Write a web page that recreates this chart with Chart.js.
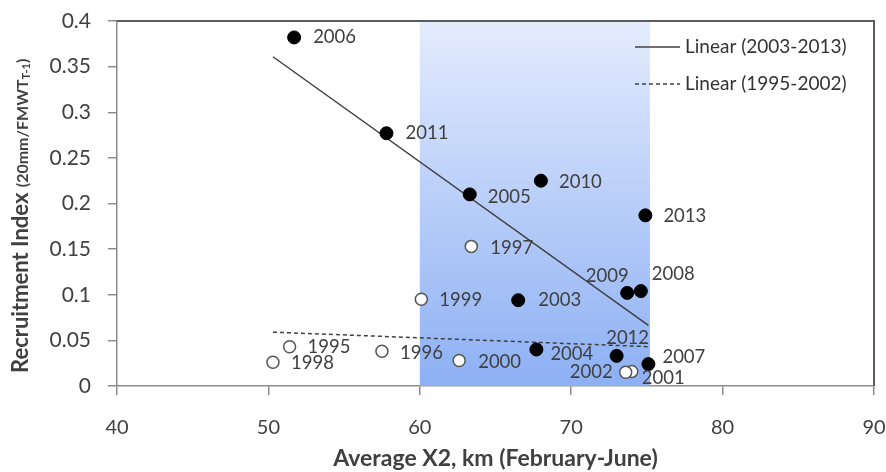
<!DOCTYPE html>
<html>
<head>
<meta charset="utf-8">
<script src="https://cdn.jsdelivr.net/npm/chart.js@4.4.1/dist/chart.umd.min.js"></script>
<style>
    html, body { margin: 0; padding: 0; background: #fff; }
    #wrap { width: 886px; height: 472px; }
</style>
</head>
<body>
<div id="wrap"><canvas id="x2_chart" width="886" height="472"></canvas></div>
<script>
/* =========================
   Data
========================= */
// 2003-2013 (filled markers)
const yearsRecent = [2003, 2004, 2005, 2006, 2007, 2008, 2009, 2010, 2011, 2012, 2013];
const x2Recent    = [66.5, 67.7, 63.3, 51.7, 75.1, 74.6, 73.7, 68.0, 57.8, 73.0, 74.9];
const indexRecent = [0.094, 0.040, 0.210, 0.382, 0.024, 0.104, 0.102, 0.225, 0.277, 0.033, 0.187];

// 1995-2002 (open markers)
const yearsEarly = [1995, 1996, 1997, 1998, 1999, 2000, 2001, 2002];
const x2Early    = [51.4, 57.5, 63.4, 50.3, 60.1, 62.6, 74.0, 73.6];
const indexEarly = [0.043, 0.038, 0.153, 0.026, 0.095, 0.028, 0.016, 0.015];

// shaded X2 band
const shadeBand = [60, 75.2];

const xTickLabels = ['40', '50', '60', '70', '80', '90'];
const yTickLabels = ['0', '0.05', '0.1', '0.15', '0.2', '0.25', '0.3', '0.35', '0.4'];

const legendLabels = ['Linear (2003-2013)', 'Linear (1995-2002)'];


/* =========================
   Label placement per year: [dx, dy, align]
========================= */
const labelPlacement = {
    2006: [19, 0, 'left'],   2011: [19, 0, 'left'],   2005: [18, 3, 'left'],
    2010: [18, 1, 'left'],   2013: [18, 1, 'left'],   2009: [-20, -17, 'center'],
    2008: [11, -17, 'left'], 2003: [20, 0, 'left'],   2004: [14, 5, 'left'],
    2012: [11, -18, 'center'], 2007: [14, -7, 'left'], 2002: [-13, 0, 'right'],
    2001: [10, 7, 'left'],   1997: [19, 2, 'left'],   1999: [18, 1, 'left'],
    1995: [18, 0, 'left'],   1998: [18, 1, 'left'],   1996: [18, 2, 'left'],
    2000: [19, 2, 'left']
};

const textColor = '#404040';


/* =========================
   Least squares trend
========================= */
function linearFit(xs, ys) {
    const n = xs.length;
    const mx = xs.reduce((a, b) => a + b, 0) / n;
    const my = ys.reduce((a, b) => a + b, 0) / n;
    let sxy = 0, sxx = 0;
    for (let i = 0; i < n; i++) {
        sxy += (xs[i] - mx) * (ys[i] - my);
        sxx += (xs[i] - mx) * (xs[i] - mx);
    }
    const slope = sxy / sxx;
    return x => my + slope * (x - mx);
}

const allX = x2Recent.concat(x2Early);
const xLo = Math.min(...allX);
const xHi = Math.max(...allX);
const fitRecent = linearFit(x2Recent, indexRecent);
const fitEarly = linearFit(x2Early, indexEarly);

function toPoints(xs, ys) {
    return xs.map((x, i) => ({ x: x, y: ys[i] }));
}


/* =========================
   Plugins
========================= */
const shadePlugin = {
    id: 'shade',
    beforeDatasetsDraw(chart) {
        const { ctx, chartArea, scales } = chart;
        const x0 = scales.x.getPixelForValue(shadeBand[0]);
        const x1 = scales.x.getPixelForValue(shadeBand[1]);
        const grad = ctx.createLinearGradient(0, chartArea.top, 0, chartArea.bottom);
        grad.addColorStop(0, '#e4ecfd');
        grad.addColorStop(1, '#8db0f4');
        ctx.save();
        ctx.fillStyle = grad;
        ctx.fillRect(x0, chartArea.top, x1 - x0, chartArea.bottom - chartArea.top);
        ctx.restore();
    },
    afterDraw(chart) {
        const { ctx, chartArea } = chart;
        // frame top and right
        ctx.save();
        ctx.strokeStyle = '#5c5c5c';
        ctx.lineWidth = 2;
        ctx.beginPath();
        ctx.moveTo(chartArea.left, chartArea.top);
        ctx.lineTo(chartArea.right, chartArea.top);
        ctx.lineTo(chartArea.right, chartArea.bottom);
        ctx.stroke();
        ctx.restore();
    }
};

const yearLabelPlugin = {
    id: 'yearLabels',
    afterDatasetsDraw(chart) {
        const ctx = chart.ctx;
        ctx.save();
        ctx.font = '18.5px Lato';
        ctx.fillStyle = textColor;
        ctx.textBaseline = 'middle';
        [[0, yearsRecent], [1, yearsEarly]].forEach(([dsIndex, years]) => {
            const meta = chart.getDatasetMeta(dsIndex);
            meta.data.forEach((pt, i) => {
                const p = labelPlacement[years[i]];
                ctx.textAlign = p[2];
                ctx.fillText(String(years[i]), pt.x + p[0], pt.y + p[1]);
            });
        });
        ctx.restore();
    }
};

const legendPlugin = {
    id: 'trendLegend',
    afterDraw(chart) {
        const { ctx, chartArea } = chart;
        const x0 = chartArea.right - 239;
        const rows = [chartArea.top + 26, chartArea.top + 63];
        ctx.save();
        ctx.strokeStyle = '#404040';
        ctx.lineWidth = 1.5;
        rows.forEach((y, i) => {
            ctx.setLineDash(i === 0 ? [] : [4, 3]);
            ctx.beginPath();
            ctx.moveTo(x0, y);
            ctx.lineTo(x0 + 45, y);
            ctx.stroke();
        });
        ctx.setLineDash([]);
        ctx.font = '19px Lato';
        ctx.fillStyle = '#333';
        ctx.textAlign = 'left';
        ctx.textBaseline = 'middle';
        rows.forEach((y, i) => ctx.fillText(legendLabels[i], x0 + 50, y));
        ctx.restore();
    }
};

const yTitlePlugin = {
    id: 'yTitle',
    afterDraw(chart) {
        const ctx = chart.ctx;
        ctx.save();
        ctx.translate(28, 373);
        ctx.rotate(-Math.PI / 2);
        ctx.fillStyle = textColor;
        ctx.textAlign = 'left';
        ctx.textBaseline = 'alphabetic';
        const parts = [
            ['bold 22px Lato', 'Recruitment Index ', 0],
            ['bold 16px Lato', '(20mm/FMWT', 0],
            ['bold 11px Lato', 'T-1', 2],
            ['bold 16px Lato', ')', 0]
        ];
        let x = 0;
        parts.forEach(([font, text, drop]) => {
            ctx.font = font;
            ctx.fillText(text, x, drop);
            x += ctx.measureText(text).width;
        });
        ctx.restore();
    }
};


/* =========================
   Chart
========================= */
Chart.defaults.font.family = 'Lato';
Chart.defaults.color = textColor;

const ctx = document.getElementById('x2_chart').getContext('2d');

new Chart(ctx, {
    type: 'scatter',
    data: {
        datasets: [
            {
                label: '2003-2013',
                data: toPoints(x2Recent, indexRecent),
                backgroundColor: '#000',
                borderColor: '#000',
                borderWidth: 1,
                pointRadius: 6.5,
                order: 0
            },
            {
                label: '1995-2002',
                data: toPoints(x2Early, indexEarly),
                backgroundColor: '#fff',
                borderColor: '#555',
                borderWidth: 1.5,
                pointRadius: 6,
                order: 1
            },
            {
                label: legendLabels[0],
                data: [{ x: xLo, y: fitRecent(xLo) }, { x: xHi, y: fitRecent(xHi) }],
                showLine: true,
                borderColor: '#404040',
                borderWidth: 1.5,
                pointRadius: 0,
                order: 2
            },
            {
                label: legendLabels[1],
                data: [{ x: xLo, y: fitEarly(xLo) }, { x: xHi, y: fitEarly(xHi) }],
                showLine: true,
                borderColor: '#404040',
                borderWidth: 1.5,
                borderDash: [4, 3],
                pointRadius: 0,
                order: 3
            }
        ]
    },
    options: {
        responsive: false,
        animation: false,
        layout: {
            autoPadding: false,
            padding: { top: 21, right: 12, left: 0, bottom: 0 }
        },
        plugins: {
            legend: { display: false },
            tooltip: { enabled: false }
        },
        scales: {
            x: {
                type: 'linear',
                min: 40,
                max: 90,
                // fixed box, no extra label overflow padding
                afterFit: scale => {
                    scale.height = 86;
                    scale.paddingLeft = 0;
                    scale.paddingRight = 0;
                },
                ticks: {
                    stepSize: 10,
                    maxRotation: 0,
                    padding: 21,
                    font: { size: 20 },
                    color: textColor,
                    callback: (v, i) => xTickLabels[i]
                },
                grid: {
                    drawOnChartArea: false,
                    tickLength: 9,
                    color: '#8c8c8c',
                    lineWidth: 1.5
                },
                border: { color: '#8c8c8c', width: 1.5 },
                title: {
                    display: true,
                    text: 'Average X2, km (February-June)',
                    font: { size: 23, weight: 'bold' },
                    color: textColor,
                    padding: { top: 0, bottom: 0 }
                }
            },
            y: {
                type: 'linear',
                min: 0,
                max: 0.4,
                afterFit: scale => {
                    scale.width = 117;
                    scale.paddingTop = 0;
                    scale.paddingBottom = 0;
                },
                ticks: {
                    stepSize: 0.05,
                    padding: 17,
                    font: { size: 21 },
                    color: textColor,
                    callback: (v, i) => yTickLabels[i]
                },
                grid: {
                    drawOnChartArea: false,
                    tickLength: 9,
                    color: '#8c8c8c',
                    lineWidth: 1.5
                },
                border: { color: '#8c8c8c', width: 1.5 }
            }
        }
    },
    plugins: [shadePlugin, yearLabelPlugin, legendPlugin, yTitlePlugin]
});
</script>
</body>
</html>
